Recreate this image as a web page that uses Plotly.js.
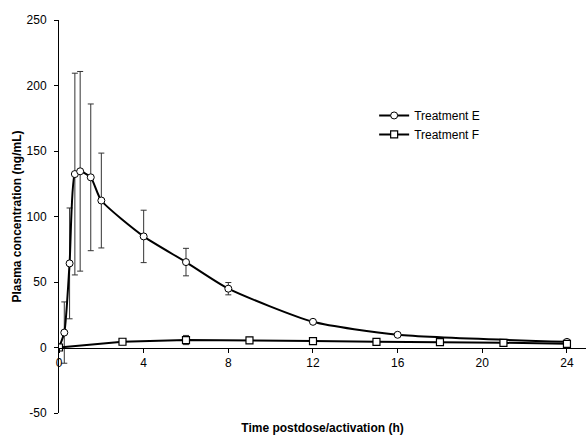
<!DOCTYPE html>
<html>
<head>
<meta charset="utf-8">
<script src="https://cdn.plot.ly/plotly-3.0.1.min.js"></script>
<style>html,body{margin:0;padding:0;background:#fff;}#chart{width:587px;height:435px;}</style>
</head>
<body>
<div id="chart"></div>
<script>
// Treatment E
const timeE = [0, 0.25, 0.5, 0.75, 1, 1.5, 2, 4, 6, 8, 12, 16, 24];
const concE = [0, 11.4, 64.2, 132.4, 134.5, 129.9, 112.2, 84.8, 65.2, 44.9, 19.6, 9.7, 4.3];
const sdE   = [0, 23.4, 42.3, 77, 76.2, 56, 36.2, 20, 10.5, 4.7, 1.2, 1, 0.8];
// Treatment F
const timeF = [0, 3, 6, 9, 12, 15, 18, 21, 24];
const concF = [0, 4.4, 5.7, 5.5, 4.9, 4.3, 4.1, 3.6, 2.8];
const sdF   = [0, 2.2, 3.5, 2.2, 1, 0.8, 0.8, 0.6, 0.6];
const xTicks = [0, 4, 8, 12, 16, 20, 24];
const yTicks = [-50, 0, 50, 100, 150, 200, 250];

const font = {family: 'Liberation Sans, Arial, sans-serif', size: 12, color: '#000'};
const boldFont = {family: 'Liberation Sans, Arial, sans-serif', size: 12, color: '#000', weight: 'bold'};

const traces = [
  {
    x: timeE, y: concE, name: 'Treatment E', type: 'scatter', mode: 'lines+markers',
    line: {color: '#000', width: 2, shape: 'spline', smoothing: 0.6},
    marker: {symbol: 'circle', size: 7, color: '#fff', line: {color: '#000', width: 1}},
    error_y: {type: 'data', array: sdE, visible: true, color: '#333', thickness: 1, width: 3}
  },
  {
    x: timeF, y: concF, name: 'Treatment F', type: 'scatter', mode: 'lines+markers',
    line: {color: '#000', width: 2},
    marker: {symbol: 'square', size: 7, color: '#fff', line: {color: '#000', width: 1.2}},
    error_y: {type: 'data', array: sdF, visible: true, color: '#333', thickness: 1, width: 3}
  }
];

const layout = {
  width: 587, height: 435,
  margin: {l: 59, r: 1, t: 20, b: 22},
  paper_bgcolor: '#fff', plot_bgcolor: '#fff',
  font: font,
  showlegend: true,
  legend: {x: 0.598, y: 0.794, xanchor: 'left', yanchor: 'top', bgcolor: 'rgba(0,0,0,0)', font: font, tracegroupgap: 0},
  xaxis: {
    range: [0, 24.9], tickvals: xTicks, ticktext: xTicks.map(String),
    anchor: 'free', position: 50 / 300,
    showline: true, linecolor: '#000', linewidth: 1,
    ticks: 'outside', ticklen: 4, tickcolor: '#000', tickwidth: 1,
    showgrid: false, zeroline: false,
    tickfont: font,
    title: {text: 'Time postdose/activation (h)', font: boldFont, standoff: 56}
  },
  yaxis: {
    range: [-50, 250], tickvals: yTicks, ticktext: yTicks.map(String),
    showline: true, linecolor: '#000', linewidth: 1,
    ticks: 'outside', ticklen: 4, tickcolor: '#000', tickwidth: 1,
    ticklabelstandoff: 5,
    showgrid: false, zeroline: false,
    tickfont: font,
    title: {text: 'Plasma concentration (ng/mL)', font: boldFont, standoff: 2}
  }
};

Plotly.newPlot('chart', traces, layout, {displayModeBar: false, staticPlot: true});
</script>
</body>
</html>
